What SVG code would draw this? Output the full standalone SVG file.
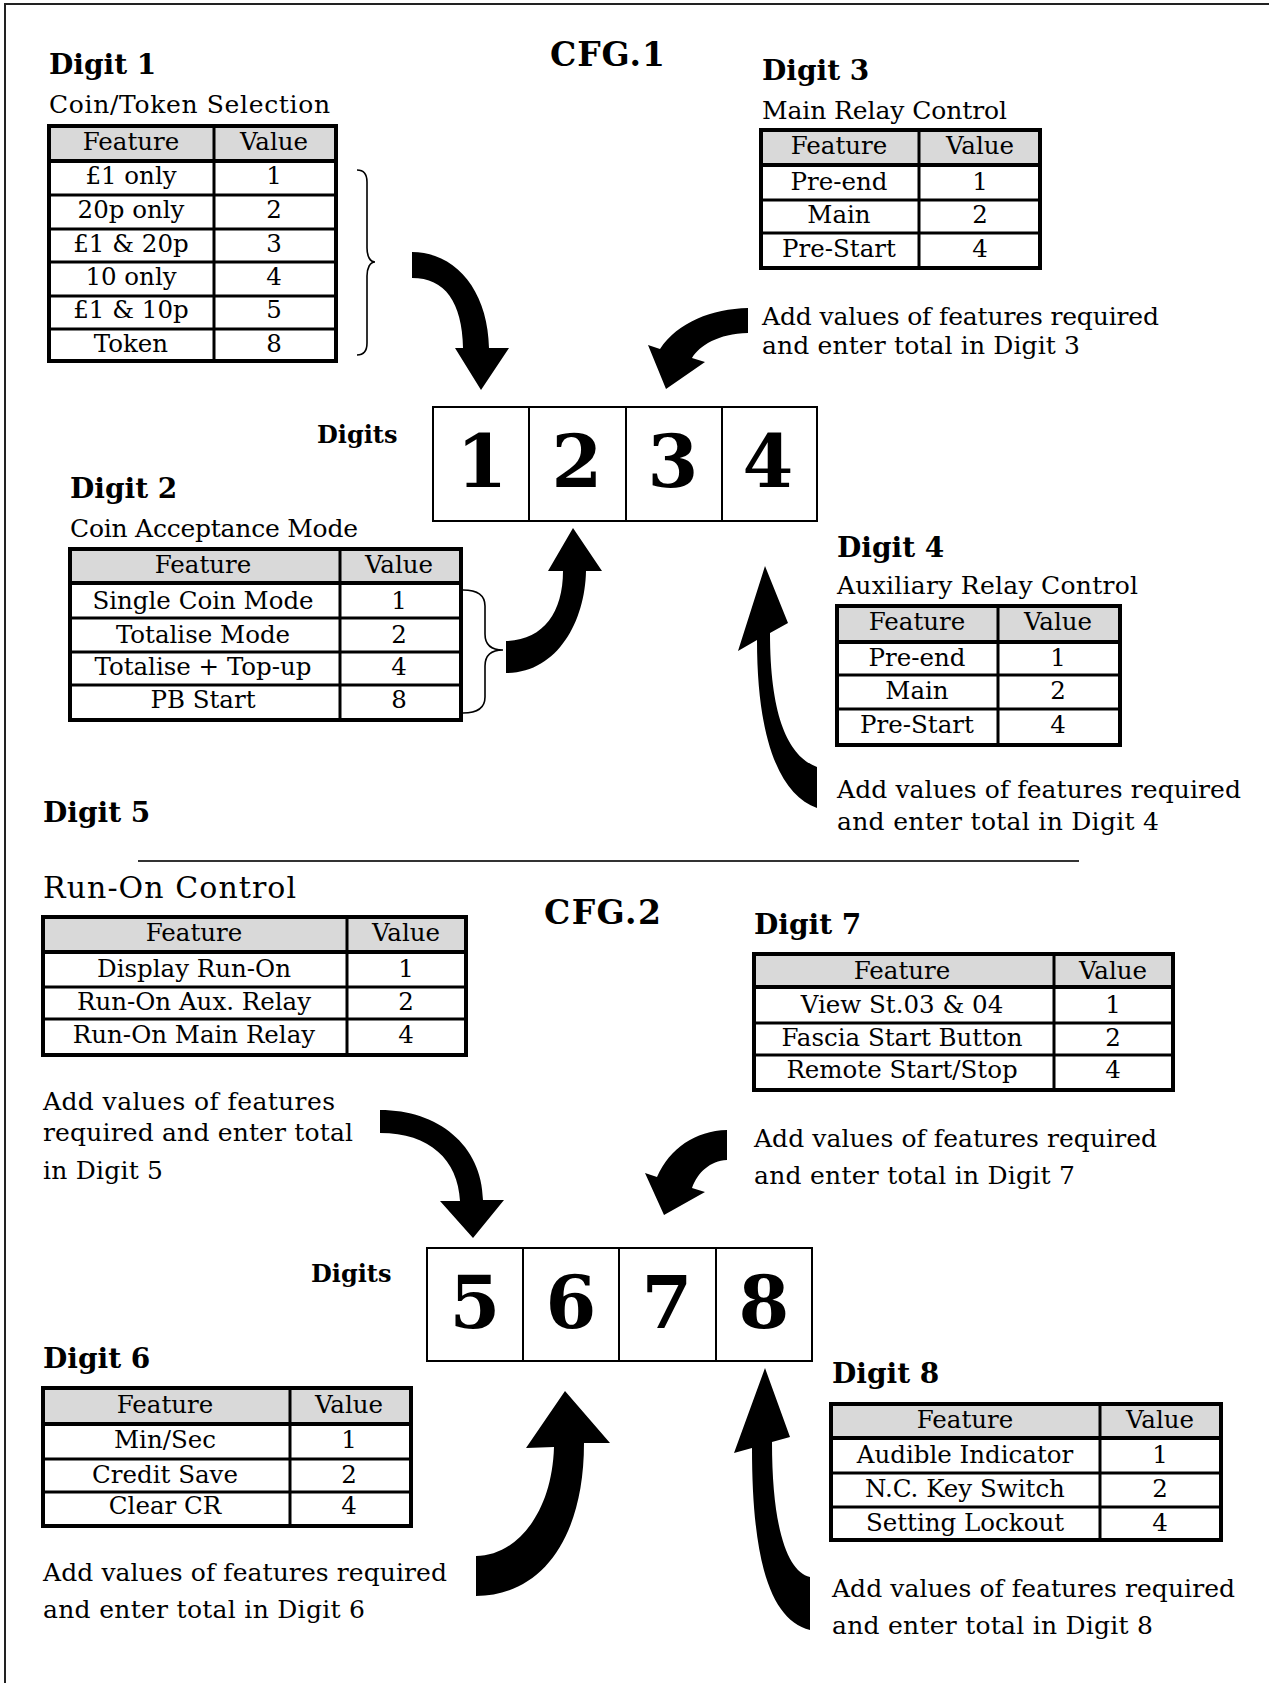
<svg xmlns="http://www.w3.org/2000/svg" width="1269" height="1683" viewBox="0 0 1269 1683">
<style>
text{font-family:"DejaVu Serif","Liberation Serif",serif;fill:#000}
.h{font-weight:bold;font-size:28px}
.b{font-size:25px}
.c{font-size:24.5px;text-anchor:middle}
.dl{font-weight:bold;font-size:24px}
.big{font-weight:bold;font-size:73px;text-anchor:middle}
.hd{fill:#d9d9d9}
.ob{fill:none;stroke:#000;stroke-width:4}
.ln{fill:none;stroke:#000;stroke-width:3}
.hl{fill:none;stroke:#000;stroke-width:4}
.box{fill:#fff;stroke:#000;stroke-width:2}
.arr{fill:#000}
.br{fill:none;stroke:#000;stroke-width:1.6}
</style>
<rect width="1269" height="1683" fill="#fff"/>
<path d="M5 1683V4H1269" fill="none" stroke="#222" stroke-width="2"/>
<line x1="138" y1="861" x2="1079" y2="861" stroke="#333" stroke-width="2"/>

<g id="cfg1"><text class="h" x="550" y="66" style="font-size:33px" textLength="115">CFG.1</text></g>
<g id="cfg2"><text class="h" x="544" y="924" style="font-size:33px" textLength="117">CFG.2</text></g>

<g id="digit1">
<text class="h" x="49" y="74">Digit 1</text>
<text class="b" x="49" y="113" textLength="281">Coin/Token Selection</text>
<rect class="hd" x="49" y="126" width="287" height="35"/>
<path class="ln" d="M49 195H336M49 229H336M49 262H336M49 296H336M49 329H336M214 126V361"/>
<path class="hl" d="M49 161H336"/>
<rect class="ob" x="49" y="126" width="287" height="235"/>
<text class="c" x="131" y="150">Feature</text><text class="c" x="274" y="150">Value</text>
<text class="c" x="131" y="184">£1 only</text><text class="c" x="274" y="184">1</text>
<text class="c" x="131" y="218">20p only</text><text class="c" x="274" y="218">2</text>
<text class="c" x="131" y="252">£1 &amp; 20p</text><text class="c" x="274" y="252">3</text>
<text class="c" x="131" y="285">10 only</text><text class="c" x="274" y="285">4</text>
<text class="c" x="131" y="318">£1 &amp; 10p</text><text class="c" x="274" y="318">5</text>
<text class="c" x="131" y="352">Token</text><text class="c" x="274" y="352">8</text>
</g>

<g id="digit3">
<text class="h" x="762" y="80">Digit 3</text>
<text class="b" x="762" y="119" textLength="245">Main Relay Control</text>
<rect class="hd" x="761" y="130" width="279" height="35"/>
<path class="ln" d="M761 200H1040M761 233H1040M919 130V268"/>
<path class="hl" d="M761 165H1040"/>
<rect class="ob" x="761" y="130" width="279" height="138"/>
<text class="c" x="839" y="154">Feature</text><text class="c" x="980" y="154">Value</text>
<text class="c" x="839" y="190">Pre-end</text><text class="c" x="980" y="190">1</text>
<text class="c" x="839" y="223">Main</text><text class="c" x="980" y="223">2</text>
<text class="c" x="839" y="257">Pre-Start</text><text class="c" x="980" y="257">4</text>
<text class="b" x="762" y="325" textLength="397">Add values of features required</text>
<text class="b" x="762" y="354" textLength="318">and enter total in Digit 3</text>
</g>

<g id="digit2">
<text class="h" x="70" y="498">Digit 2</text>
<text class="b" x="70" y="537" textLength="288">Coin Acceptance Mode</text>
<rect class="hd" x="70" y="549" width="391" height="34"/>
<path class="ln" d="M70 618H461M70 652H461M70 685H461M340 549V720"/>
<path class="hl" d="M70 583H461"/>
<rect class="ob" x="70" y="549" width="391" height="171"/>
<text class="c" x="203" y="573">Feature</text><text class="c" x="399" y="573">Value</text>
<text class="c" x="203" y="609">Single Coin Mode</text><text class="c" x="399" y="609">1</text>
<text class="c" x="203" y="643">Totalise Mode</text><text class="c" x="399" y="643">2</text>
<text class="c" x="203" y="675">Totalise + Top-up</text><text class="c" x="399" y="675">4</text>
<text class="c" x="203" y="708">PB Start</text><text class="c" x="399" y="708">8</text>
</g>

<g id="digits1234">
<text class="dl" x="317" y="443">Digits</text>
<rect class="box" x="433" y="407" width="96" height="114"/>
<rect class="box" x="529" y="407" width="97" height="114"/>
<rect class="box" x="626" y="407" width="96" height="114"/>
<rect class="box" x="722" y="407" width="95" height="114"/>
<text class="big" x="482" y="487">1</text>
<text class="big" x="577" y="487">2</text>
<text class="big" x="673" y="487">3</text>
<text class="big" x="768" y="487">4</text>
</g>

<g id="digit4">
<text class="h" x="837" y="557">Digit 4</text>
<text class="b" x="837" y="594" textLength="301">Auxiliary Relay Control</text>
<rect class="hd" x="837" y="606" width="283" height="36"/>
<path class="ln" d="M837 675H1120M837 709H1120M998 606V745"/>
<path class="hl" d="M837 642H1120"/>
<rect class="ob" x="837" y="606" width="283" height="139"/>
<text class="c" x="917" y="630">Feature</text><text class="c" x="1058" y="630">Value</text>
<text class="c" x="917" y="666">Pre-end</text><text class="c" x="1058" y="666">1</text>
<text class="c" x="917" y="699">Main</text><text class="c" x="1058" y="699">2</text>
<text class="c" x="917" y="733">Pre-Start</text><text class="c" x="1058" y="733">4</text>
<text class="b" x="837" y="798" textLength="404">Add values of features required</text>
<text class="b" x="837" y="830" textLength="322">and enter total in Digit 4</text>
</g>

<g id="digit5">
<text class="h" x="43" y="822">Digit 5</text>
<text class="b" x="43" y="898" style="font-size:30px" textLength="253">Run-On Control</text>
<rect class="hd" x="43" y="917" width="423" height="35"/>
<path class="ln" d="M43 987H466M43 1019H466M347 917V1055"/>
<path class="hl" d="M43 952H466"/>
<rect class="ob" x="43" y="917" width="423" height="138"/>
<text class="c" x="194" y="941">Feature</text><text class="c" x="406" y="941">Value</text>
<text class="c" x="194" y="977">Display Run-On</text><text class="c" x="406" y="977">1</text>
<text class="c" x="194" y="1010">Run-On Aux. Relay</text><text class="c" x="406" y="1010">2</text>
<text class="c" x="194" y="1043">Run-On Main Relay</text><text class="c" x="406" y="1043">4</text>
<text class="b" x="43" y="1110" textLength="292">Add values of features</text>
<text class="b" x="43" y="1141" textLength="310">required and enter total</text>
<text class="b" x="43" y="1179" textLength="120">in Digit 5</text>
</g>

<g id="digit7">
<text class="h" x="754" y="934">Digit 7</text>
<rect class="hd" x="754" y="954" width="419" height="33"/>
<path class="ln" d="M754 1023H1173M754 1055H1173M1054 954V1090"/>
<path class="hl" d="M754 987H1173"/>
<rect class="ob" x="754" y="954" width="419" height="136"/>
<text class="c" x="902" y="979">Feature</text><text class="c" x="1113" y="979">Value</text>
<text class="c" x="902" y="1013">View St.03 &amp; 04</text><text class="c" x="1113" y="1013">1</text>
<text class="c" x="902" y="1046">Fascia Start Button</text><text class="c" x="1113" y="1046">2</text>
<text class="c" x="902" y="1078">Remote Start/Stop</text><text class="c" x="1113" y="1078">4</text>
<text class="b" x="754" y="1147" textLength="403">Add values of features required</text>
<text class="b" x="754" y="1184" textLength="321">and enter total in Digit 7</text>
</g>

<g id="digits5678">
<text class="dl" x="311" y="1282">Digits</text>
<rect class="box" x="427" y="1248" width="96" height="113"/>
<rect class="box" x="523" y="1248" width="96" height="113"/>
<rect class="box" x="619" y="1248" width="97" height="113"/>
<rect class="box" x="716" y="1248" width="96" height="113"/>
<text class="big" x="475" y="1328">5</text>
<text class="big" x="571" y="1328">6</text>
<text class="big" x="667" y="1328">7</text>
<text class="big" x="764" y="1328">8</text>
</g>

<g id="digit6">
<text class="h" x="43" y="1368">Digit 6</text>
<rect class="hd" x="43" y="1388" width="368" height="36"/>
<path class="ln" d="M43 1459H411M43 1492H411M290 1388V1526"/>
<path class="hl" d="M43 1424H411"/>
<rect class="ob" x="43" y="1388" width="368" height="138"/>
<text class="c" x="165" y="1413">Feature</text><text class="c" x="349" y="1413">Value</text>
<text class="c" x="165" y="1448">Min/Sec</text><text class="c" x="349" y="1448">1</text>
<text class="c" x="165" y="1483">Credit Save</text><text class="c" x="349" y="1483">2</text>
<text class="c" x="165" y="1514">Clear CR</text><text class="c" x="349" y="1514">4</text>
<text class="b" x="43" y="1581" textLength="404">Add values of features required</text>
<text class="b" x="43" y="1618" textLength="322">and enter total in Digit 6</text>
</g>

<g id="digit8">
<text class="h" x="832" y="1383">Digit 8</text>
<rect class="hd" x="831" y="1404" width="390" height="34"/>
<path class="ln" d="M831 1473H1221M831 1507H1221M1100 1404V1540"/>
<path class="hl" d="M831 1438H1221"/>
<rect class="ob" x="831" y="1404" width="390" height="136"/>
<text class="c" x="965" y="1428">Feature</text><text class="c" x="1160" y="1428">Value</text>
<text class="c" x="965" y="1463">Audible Indicator</text><text class="c" x="1160" y="1463">1</text>
<text class="c" x="965" y="1497">N.C. Key Switch</text><text class="c" x="1160" y="1497">2</text>
<text class="c" x="965" y="1531">Setting Lockout</text><text class="c" x="1160" y="1531">4</text>
<text class="b" x="832" y="1597" textLength="403">Add values of features required</text>
<text class="b" x="832" y="1634" textLength="321">and enter total in Digit 8</text>
</g>

<g id="connectors">
<path class="br" d="M357 170C364 170 367 174 367 182V248C367 256 370 262 375 262C370 262 367 268 367 276V343C367 351 364 355 357 355"/>
<path class="br" d="M463 590C478 590 485 596 485 606V634C485 645 492 650 503 650C492 650 485 655 485 666V697C485 707 478 713 463 713"/>
<path class="arr" d="M412 252C455 252 488 290 489 348L509 348L481 390L455 348L463 348C462 302 445 278 412 278Z"/>
<path class="arr" d="M748 308C712 309 678 322 660 349L648 345L666 389L705 362L692 358C700 345 718 334 748 333Z"/>
<path class="arr" d="M506 641C543 640 563 613 563 571L548 571L573 528L602 571L586 571C585 622 557 673 506 673Z"/>
<path class="arr" d="M817 767C790 757 770 720 770 633L788 623L765 566L738 651L757 640C757 740 780 795 817 808Z"/>
<path class="arr" d="M380 1110C438 1110 482 1145 483 1200L504 1200L473 1238L440 1201L460 1201C458 1160 430 1133 380 1133Z"/>
<path class="arr" d="M727 1130C695 1131 670 1148 657 1177L645 1173L664 1215L705 1192L692 1188C698 1172 710 1161 727 1160Z"/>
<path class="arr" d="M476 1556C515 1556 552 1515 554 1447L526 1448L565 1391L610 1443L584 1443C584 1540 540 1596 476 1596Z"/>
<path class="arr" d="M810 1577C788 1572 772 1530 772 1442L790 1437L765 1368L734 1453L752 1448C752 1560 770 1620 810 1630Z"/>
</g>
</svg>
